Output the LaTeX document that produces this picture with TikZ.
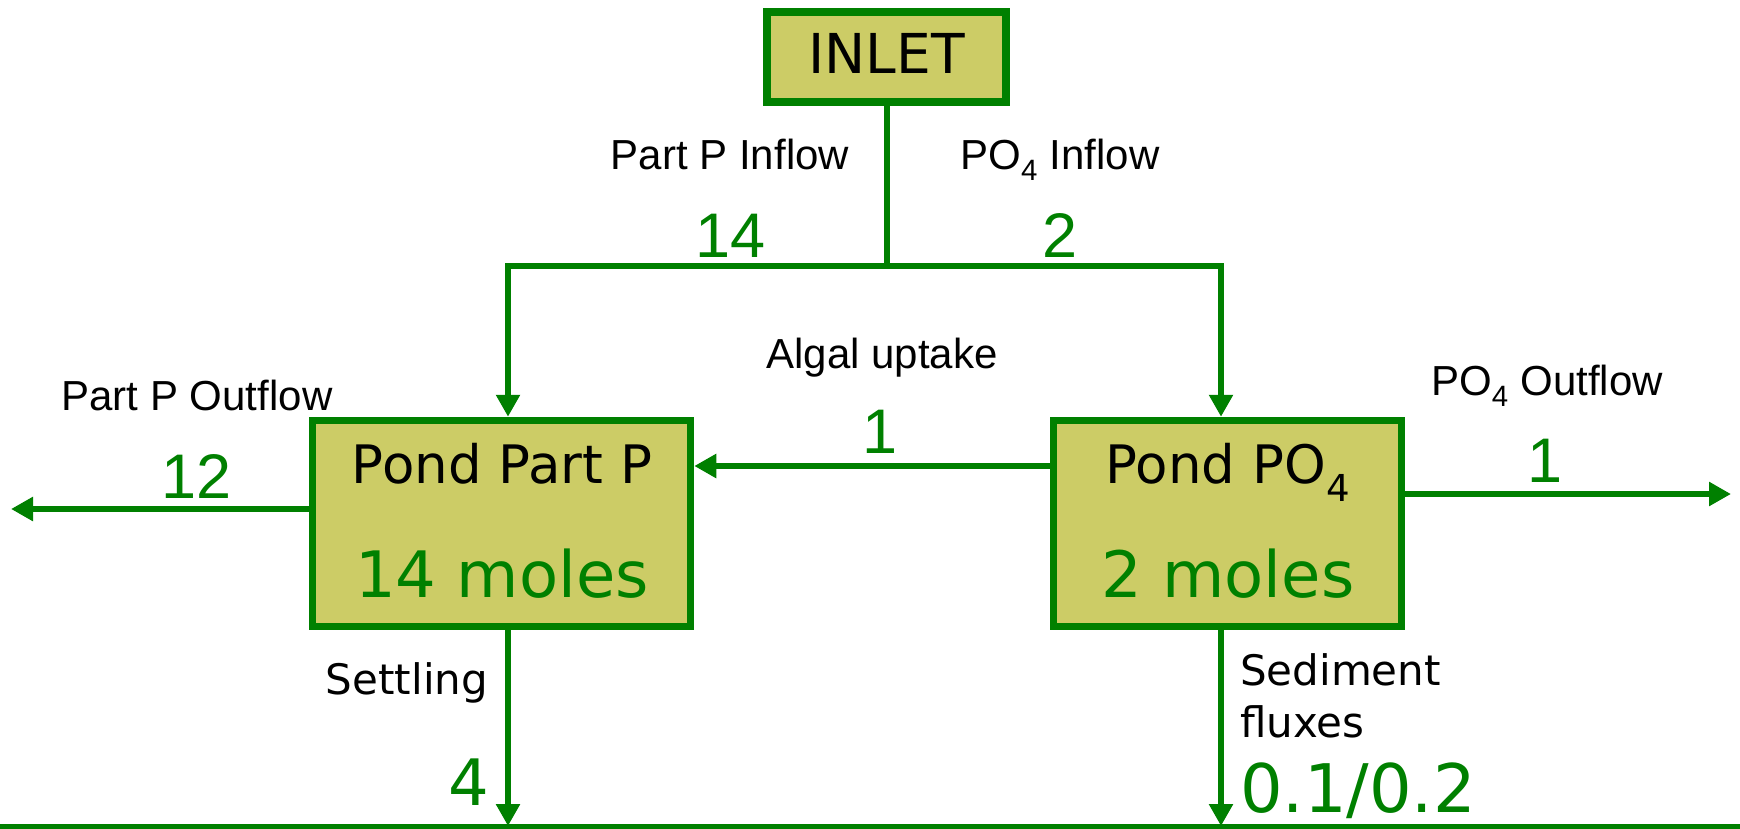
\documentclass[tikz,border=0pt]{standalone}
\usepackage{fontspec}
\setmainfont{Liberation Sans}
\newfontfamily\vfont{DejaVu Sans}
\usetikzlibrary{arrows.meta}
\definecolor{flowgreen}{RGB}{0,128,0}
\definecolor{boxfill}{RGB}{204,204,102}
\newcommand\pxsize[1]{\fontsize{#1}{#1}\selectfont}
\begin{document}
\begin{tikzpicture}[x=1pt,y=-1pt,
  box/.style={draw=flowgreen,fill=boxfill,line width=7.5pt,inner sep=0pt,outer sep=3.75pt},
  flow/.style={draw=flowgreen,line width=6pt},
  arr/.style={flow,-{Triangle[width=23pt,length=22pt]}},
  lbl/.style={inner sep=0pt,anchor=base,font=\pxsize{42}},
  num/.style={inner sep=0pt,anchor=base,text=flowgreen,font=\pxsize{63}},
  vlbl/.style={inner sep=0pt,anchor=base,font=\vfont\pxsize{42}},
  vnum/.style={inner sep=0pt,anchor=base,text=flowgreen,font=\vfont\pxsize{64}},
  boxtitle/.style={inner sep=0pt,anchor=base,font=\vfont\pxsize{53}}]
\useasboundingbox (0,0) rectangle (1740,828);
% boxes
\node[box,minimum width=239pt,minimum height=90pt] (inlet) at (886.5,57) {};
\node[box,minimum width=378pt,minimum height=206pt] (pp) at (501.5,523.5) {};
\node[box,minimum width=348pt,minimum height=206pt] (po) at (1227.5,523.5) {};
% helper coordinates
\coordinate (jl) at (508,266);
\coordinate (jr) at (1221,266);
\coordinate (ya) at (0,466);
\coordinate (ppout) at (11,509);
\coordinate (poout) at (1731,494);
\coordinate (gl) at (0,826);
\coordinate (gr) at (1740,826);
% connectors
\draw[flow] (inlet.south) -- (inlet.south |- jl);
\draw[arr] (inlet.south |- jl) -- (jl) -- (jl |- pp.north);
\draw[arr] (inlet.south |- jr) -- (jr) -- (jr |- po.north);
\draw[arr] (po.west |- ya) -- (pp.east |- ya);
\draw[arr] (pp.west |- ppout) -- (ppout);
\draw[arr] (po.east |- poout) -- (poout);
\draw[flow,line width=5pt] (gl) -- (gr);
\draw[arr] (pp.south -| jl) -- (jl |- gl);
\draw[arr] (po.south -| jr) -- (jr |- gl);
% box texts
\node[inner sep=0pt,anchor=base,font=\vfont\pxsize{55}] (tinlet) at (886.5,73) {INLET};
\node[boxtitle] (tpp) at (502,483) {Pond Part P};
\node[vnum] (tppm) at (502,597) {14 moles};
\node[boxtitle] (tpo) at (1228,483) {Pond PO\textsubscript{4}};
\node[vnum] (tpom) at (1228,597) {2 moles};
% labels
\node[lbl] (l1) at (730,169) {Part P Inflow};
\node[lbl] (l2) at (1060,169) {PO\textsubscript{4} Inflow};
\node[lbl] (l3) at (882,368) {Algal uptake};
\node[lbl] (l4) at (197,410) {Part P Outflow};
\node[lbl] (l5) at (1547,395) {PO\textsubscript{4} Outflow};
\node[vlbl] (l6) at (407,694) {Settling};
\node[vlbl,anchor=base west] (l7) at (1240,685) {Sediment};
\node[vlbl,anchor=base west] (l8) at (1240,737) {fluxes};
% numbers
\node[num] (n1) at (731,257) {14};
\node[num] (n2) at (1060,257) {2};
\node[num] (n3) at (880,453) {1};
\node[num] (n4) at (197,498) {12};
\node[num] (n5) at (1545,482) {1};
\node[vnum] (n6) at (469,805) {4};
\node[vnum,anchor=base west,font=\vfont\pxsize{67}] (n7) at (1240,812) {0.1/0.2};
\end{tikzpicture}
\end{document}
